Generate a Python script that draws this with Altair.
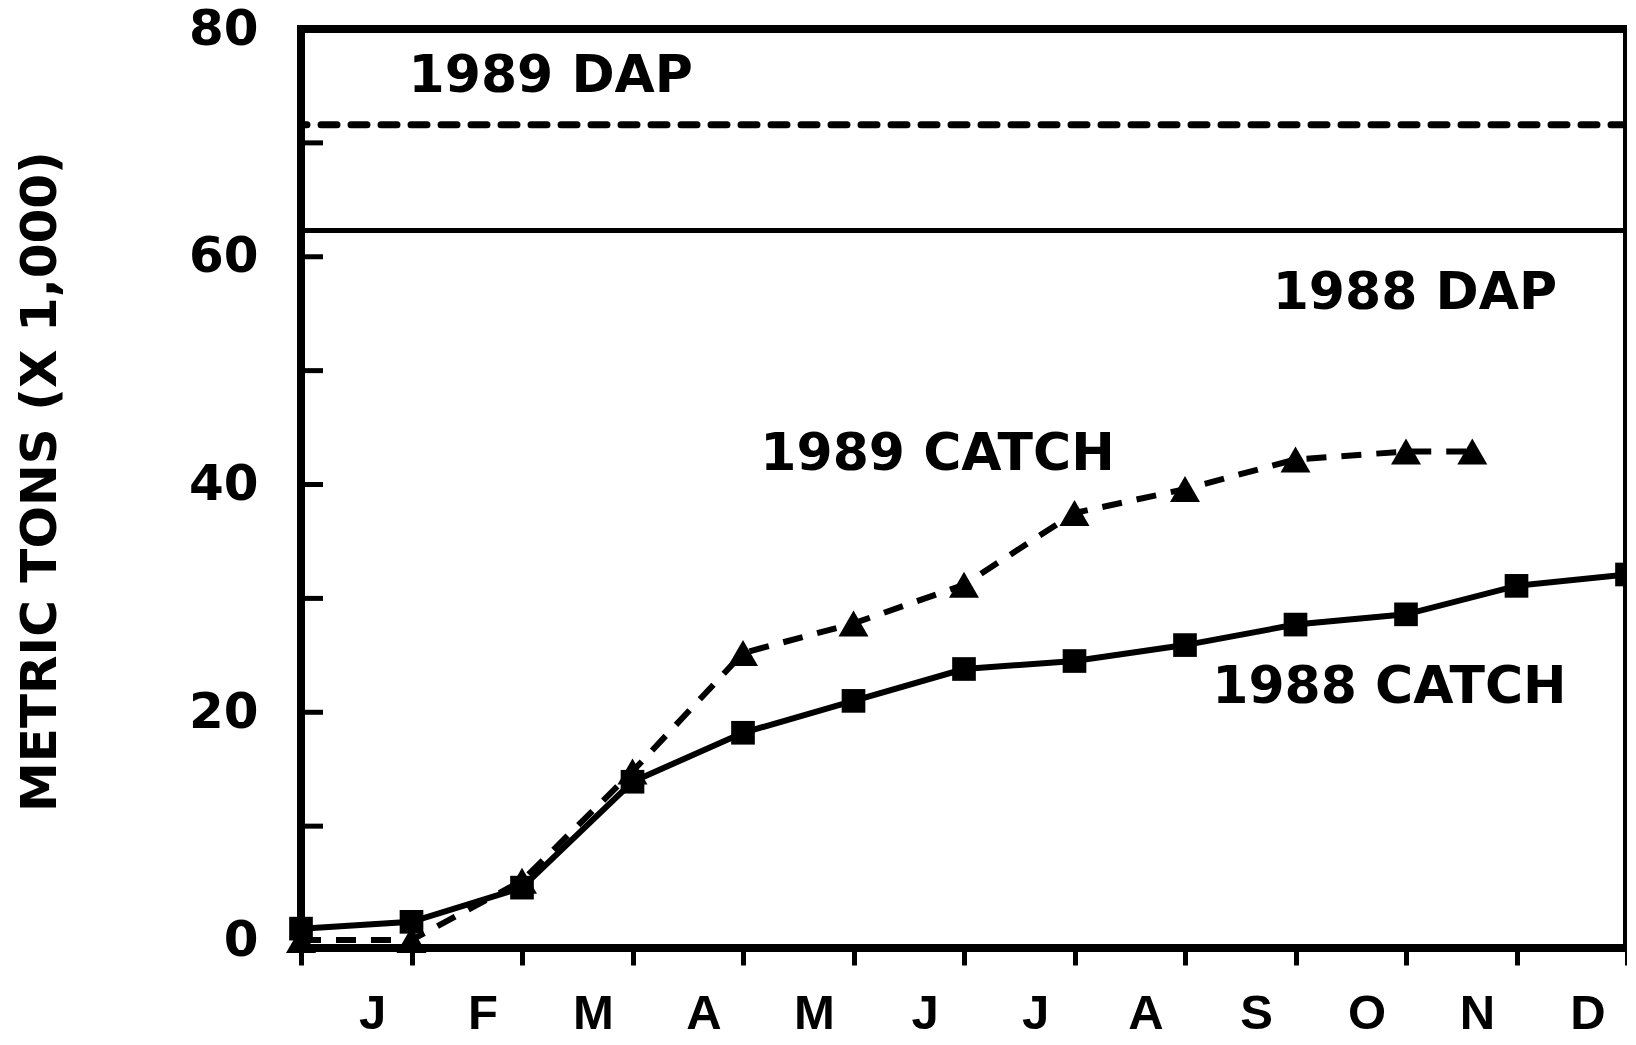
import json
import altair as alt
import pandas as pd

# ---- data ----
months = ["J", "F", "M", "A", "M", "J", "J", "A", "S", "O", "N", "D"]
month_ticks = list(range(13))

x_1988 = [0, 1, 2, 3, 4, 5, 6, 7, 8, 9, 10, 11, 12]
catch_1988 = [1.0, 1.6, 4.6, 13.9, 18.2, 21.0, 23.8, 24.5, 25.9, 27.7, 28.6, 31.1, 32.1]

x_1989 = [0, 1, 2, 3, 4, 5, 6, 7, 8, 9, 10, 10.6]
catch_1989 = [0.0, 0.0, 5.2, 14.8, 25.2, 27.8, 31.2, 37.5, 39.6, 42.2, 42.9, 42.9]

dap_1988 = [62.3]
dap_1989 = [71.6]

label_text = ["1989 DAP", "1988 DAP", "1989 CATCH", "1988 CATCH"]
label_x = [2.26, 10.08, 5.76, 9.85]
label_y = [75.9, 56.8, 42.7, 22.2]

y_label_values = [0, 20, 40, 60, 80]
y_tick_values = [10, 20, 30, 40, 50, 60, 70]

# ---- tables ----
df88 = pd.DataFrame({"month": x_1988, "tons": catch_1988})
df89 = pd.DataFrame({"month": x_1989, "tons": catch_1989})
dfd88 = pd.DataFrame({"tons": dap_1988})
dfd89 = pd.DataFrame({"tons": dap_1989})
dflab = pd.DataFrame({"month": label_x, "tons": label_y, "text": label_text})
dftick = pd.DataFrame({"tons": y_tick_values})

NUMFONT = "DejaVu Sans"
LETFONT = "Liberation Sans"

xscale = alt.Scale(domain=[0, 12], nice=False, zero=False)
yscale = alt.Scale(domain=[-0.7, 80], nice=False, zero=False)

label_expr = json.dumps(months + [""]) + "[datum.value]"

x_axis = alt.Axis(
    values=month_ticks,
    labelExpr=label_expr,
    title=None,
    grid=False,
    domain=False,
    ticks=True,
    tickSize=17,
    tickWidth=5,
    tickColor="black",
    labelFont=LETFONT,
    labelFontWeight="bold",
    labelFontSize=49,
    labelColor="black",
    labelPadding=24,
    labelOffset=71,
    labelFlush=False,
    labelOverlap=False,
    labelBaseline="top",
)

y_axis = alt.Axis(
    values=y_label_values,
    title="METRIC TONS (X 1,000)",
    titleFont=NUMFONT,
    titleFontWeight="bold",
    titleFontSize=50,
    titleColor="black",
    titleX=-261,
    titleY=452,
    titleAngle=270,
    titleAlign="center",
    titleBaseline="middle",
    grid=False,
    domain=False,
    ticks=False,
    labelFont=NUMFONT,
    labelFontWeight="bold",
    labelFontSize=50,
    labelColor="black",
    labelPadding=43,
    labelFlush=False,
    labelOverlap=False,
)

base_x = alt.X("month:Q", scale=xscale, axis=x_axis)
base_y = alt.Y("tons:Q", scale=yscale, axis=y_axis)

line88 = alt.Chart(df88).mark_line(color="black", strokeWidth=6).encode(x=base_x, y=base_y)
pts88 = alt.Chart(df88).mark_point(
    shape="square", filled=True, color="black", size=560, opacity=1
).encode(x=alt.X("month:Q", scale=xscale), y=alt.Y("tons:Q", scale=yscale))

line89 = alt.Chart(df89).mark_line(
    color="black", strokeWidth=6, strokeDash=[20, 15]
).encode(x=alt.X("month:Q", scale=xscale), y=alt.Y("tons:Q", scale=yscale))
pts89 = alt.Chart(df89).mark_point(
    shape="triangle-up", filled=True, color="black", size=900, opacity=1
).encode(x=alt.X("month:Q", scale=xscale), y=alt.Y("tons:Q", scale=yscale))

rule88 = alt.Chart(dfd88).mark_rule(color="black", strokeWidth=5).encode(
    y=alt.Y("tons:Q", scale=yscale)
)
rule89 = alt.Chart(dfd89).mark_rule(
    color="black", strokeWidth=7, strokeDash=[16, 14], strokeCap="round"
).encode(y=alt.Y("tons:Q", scale=yscale))

ticks = alt.Chart(dftick).mark_rule(color="black", strokeWidth=5).encode(
    y=alt.Y("tons:Q", scale=yscale),
    x=alt.value(0),
    x2=alt.value(22),
)

labels = alt.Chart(dflab).mark_text(
    font=NUMFONT, fontWeight="bold", fontSize=52, color="black",
    align="center", baseline="middle"
).encode(
    x=alt.X("month:Q", scale=xscale),
    y=alt.Y("tons:Q", scale=yscale),
    text="text:N",
)

chart = alt.layer(
    line88, rule88, rule89, ticks, line89, pts89, pts88, labels
).properties(
    width=1326,
    height=919,
    background="white",
    autosize=alt.AutoSizeParams(type="none"),
    padding={"left": 293, "top": 21, "right": 0, "bottom": 89},
).configure_view(
    stroke="black", strokeWidth=8
)

chart.save("out.html", embed_options={"renderer": "svg", "actions": False})
